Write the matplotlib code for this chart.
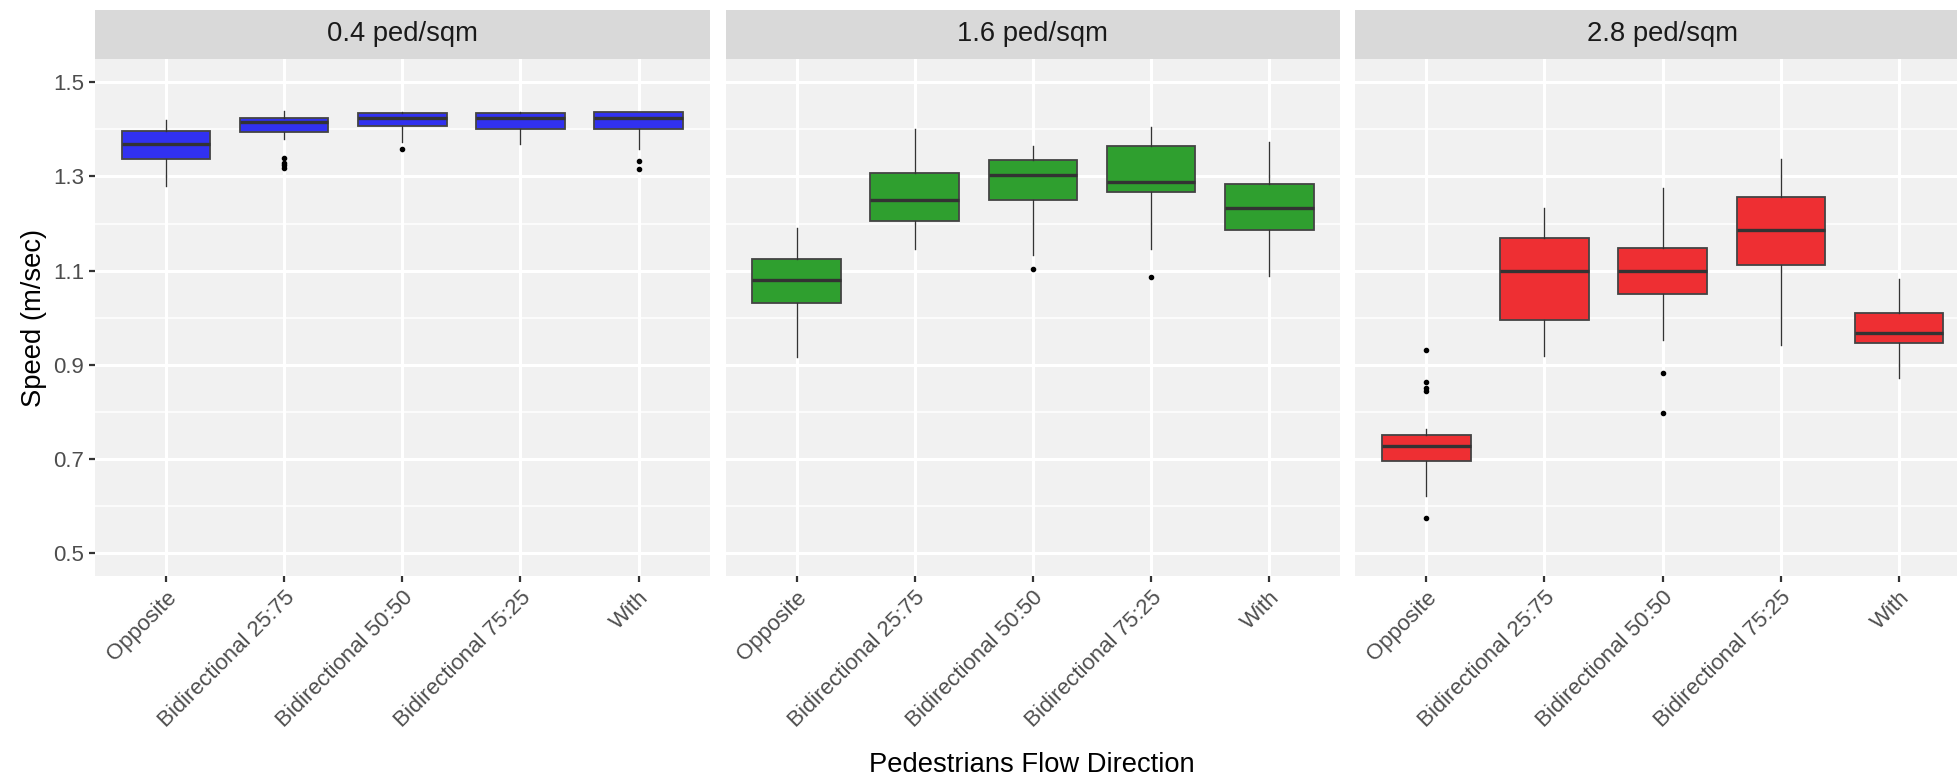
import numpy as np
import matplotlib
matplotlib.use("Agg")
import matplotlib.pyplot as plt

plt.rcParams['font.family'] = ['Liberation Sans', 'DejaVu Sans']

categories = ['Opposite', 'Bidirectional 25:75', 'Bidirectional 50:50',
              'Bidirectional 75:25', 'With']
densities = ['0.4 ped/sqm', '1.6 ped/sqm', '2.8 ped/sqm']
fill_colors = ['#3131F0', '#2F9F2F', '#EE2F33']

# box statistics, one list per density
low_04 = [1.280, 1.380, 1.374, 1.370, 1.359]
q1_04 = [1.337, 1.394, 1.408, 1.401, 1.400]
med_04 = [1.370, 1.415, 1.425, 1.424, 1.424]
q3_04 = [1.396, 1.424, 1.434, 1.434, 1.437]
high_04 = [1.419, 1.439, 1.438, 1.438, 1.438]
out_04 = [[], [1.339, 1.329, 1.324, 1.319], [1.359], [], [1.332, 1.315]]

low_16 = [0.916, 1.146, 1.134, 1.146, 1.088]
q1_16 = [1.031, 1.206, 1.251, 1.267, 1.187]
med_16 = [1.080, 1.250, 1.303, 1.288, 1.234]
q3_16 = [1.124, 1.308, 1.335, 1.365, 1.285]
high_16 = [1.191, 1.400, 1.364, 1.406, 1.373]
out_16 = [[], [], [1.103], [1.086], []]

low_28 = [0.620, 0.919, 0.953, 0.941, 0.872]
q1_28 = [0.695, 0.995, 1.050, 1.111, 0.946]
med_28 = [0.728, 1.099, 1.100, 1.186, 0.967]
q3_28 = [0.751, 1.169, 1.149, 1.257, 1.010]
high_28 = [0.763, 1.233, 1.276, 1.337, 1.082]
out_28 = [[0.932, 0.863, 0.851, 0.845, 0.574], [], [0.883, 0.798], [], []]

panels = [
    (low_04, q1_04, med_04, q3_04, high_04, out_04),
    (low_16, q1_16, med_16, q3_16, high_16, out_16),
    (low_28, q1_28, med_28, q3_28, high_28, out_28),
]

W, H = 1957, 779
fig = plt.figure(figsize=(W / 100, H / 100), dpi=100)

panel_lefts = [95, 725.6, 1355.4]
panel_w = 614.5
panel_top, panel_bot = 59.3, 576
strip_top = 9.6

for i, (low, q1, med, q3, high, out) in enumerate(panels):
    left = panel_lefts[i]
    ax = fig.add_axes([left / W, (H - panel_bot) / H, panel_w / W,
                       (panel_bot - panel_top) / H])
    ax.set_facecolor('#F1F1F1')
    for s in ax.spines.values():
        s.set_visible(False)
    ax.set_axisbelow(True)

    stats = []
    for j in range(len(categories)):
        stats.append(dict(whislo=low[j], q1=q1[j], med=med[j], q3=q3[j],
                          whishi=high[j], fliers=out[j]))
    bp = ax.bxp(stats, positions=np.arange(len(categories)), widths=0.75,
                patch_artist=True, showcaps=False,
                boxprops=dict(edgecolor='#444444', linewidth=1.3),
                medianprops=dict(color='#333333', linewidth=2.4),
                whiskerprops=dict(color='#333333', linewidth=1.0),
                flierprops=dict(marker='o', markerfacecolor='black',
                                markeredgecolor='black', markersize=3,
                                linestyle='none'))
    for b in bp['boxes']:
        b.set_facecolor(fill_colors[i])

    ax.set_xlim(-0.6, len(categories) - 0.4)
    ax.set_ylim(0.451, 1.549)
    ax.set_yticks([0.5, 0.7, 0.9, 1.1, 1.3, 1.5])
    ax.set_yticks([0.6, 0.8, 1.0, 1.2, 1.4], minor=True)
    ax.set_xticks(np.arange(len(categories)))
    ax.set_xticklabels(categories, rotation=45, ha='right', va='top',
                       rotation_mode='anchor')
    ax.grid(True, which='major', color='white', linewidth=2.2)
    ax.grid(True, which='minor', axis='y', color='white', linewidth=1.1)
    ax.tick_params(which='major', length=4, width=1.6, color='#333333',
                   labelcolor='#4D4D4D', labelsize=16, pad=4)
    ax.tick_params(which='minor', length=0)
    if i > 0:
        ax.tick_params(axis='y', which='major', length=0, labelleft=False)
    else:
        ax.set_yticklabels(['0.5', '0.7', '0.9', '1.1', '1.3', '1.5'])
        ax.set_ylabel('Speed (m/sec)', fontsize=19.7, color='black',
                      labelpad=4)

    sax = fig.add_axes([left / W, (H - panel_top) / H, panel_w / W,
                        (panel_top - strip_top) / H])
    sax.set_facecolor('#D9D9D9')
    sax.set_xticks([])
    sax.set_yticks([])
    for s in sax.spines.values():
        s.set_visible(False)
    sax.text(0.5, 0.5, densities[i], ha='center', va='center',
             fontsize=19.7, color='#1A1A1A', transform=sax.transAxes)

fig.text(1032 / W, (H - 765) / H, 'Pedestrians Flow Direction',
         ha='center', va='center', fontsize=19.7, color='black')

fig.savefig('out.png', dpi=100)
plt.close(fig)
